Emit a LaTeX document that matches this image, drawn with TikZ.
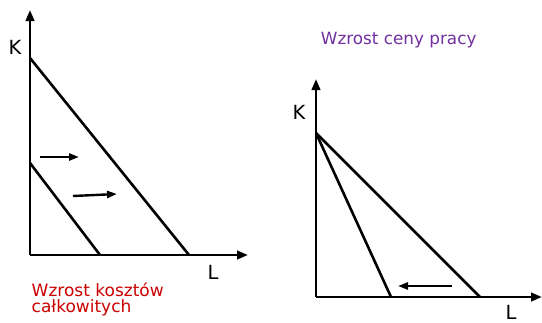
\documentclass[tikz,border=0pt]{standalone}
\usepackage{fontspec}
\setmainfont{DejaVu Sans}
\usetikzlibrary{arrows.meta}
\definecolor{redtxt}{RGB}{204,0,0}
\definecolor{purptxt}{RGB}{112,48,160}
\begin{document}
\begin{tikzpicture}[x=1pt,y=-1pt,
  axis/.style={line width=2.6pt,-{Triangle[length=11pt,width=8.5pt]}},
  budget/.style={line width=2.6pt},
  movearrow/.style={line width=2.4pt,-{Triangle[length=10pt,width=7pt]}},
  axlbl/.style={font=\fontsize{19.5}{22}\selectfont,inner sep=0pt,anchor=base},
]
\useasboundingbox (0,0) rectangle (542,322);
% left plot
\coordinate (O1) at (30,255);
\coordinate (Y1) at (30,10);
\coordinate (X1) at (248,255);
\coordinate (A1) at (30,58);
\coordinate (B1) at (189,255);
\coordinate (C1) at (30,163);
\coordinate (D1) at (100,255);
\coordinate (p1s) at (40,157);
\coordinate (p1e) at (79,157);
\coordinate (p2s) at (73,196);
\coordinate (p2e) at (117,194);
\draw[axis] (O1) -- (Y1);
\draw[axis] (O1) -- (X1);
\draw[budget] (A1) -- (B1);
\draw[budget] (C1) -- (D1);
\draw[movearrow] (p1s) -- (p1e);
\draw[movearrow] (p2s) -- (p2e);
\node[axlbl] (K1) at (15,54) {K};
\node[axlbl] (L1) at (213,279) {L};
\node[inner sep=0pt,text=redtxt,anchor=base west,align=left,font=\fontsize{17}{15.8}\selectfont] (t1) at (31.5,312.2) {Wzrost kosztów\\całkowitych};
% right plot
\coordinate (O2) at (316,297);
\coordinate (Y2) at (316,79);
\coordinate (X2) at (542,297);
\coordinate (A2) at (316,133);
\coordinate (B2) at (480,297);
\coordinate (D2) at (391,297);
\coordinate (q1s) at (452,286);
\coordinate (q1e) at (398,286);
\draw[axis] (O2) -- (Y2);
\draw[axis] (O2) -- (X2);
\draw[budget] (A2) -- (B2);
\draw[budget] (A2) -- (D2);
\draw[movearrow] (q1s) -- (q1e);
\node[axlbl] (K2) at (299,119) {K};
\node[axlbl] (L2) at (511,319) {L};
\node[inner sep=0pt,anchor=base,text=purptxt,font=\fontsize{16.8}{19}\selectfont] (t2) at (398.7,44.3) {Wzrost ceny pracy};
\end{tikzpicture}
\end{document}
